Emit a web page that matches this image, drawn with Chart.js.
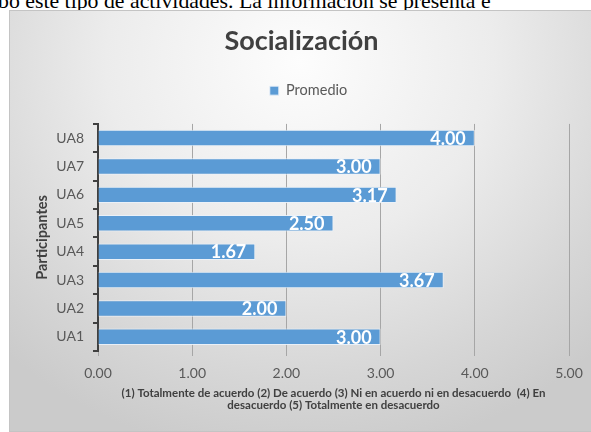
<!DOCTYPE html>
<html>
<head>
<meta charset="utf-8">
<script src="https://cdn.jsdelivr.net/npm/chart.js@4"></script>
<style>
  body { margin: 0; width: 591px; height: 432px; overflow: hidden; background: #fff; position: relative; }
  #topText {
    position: absolute; left: -2px; top: -10px; white-space: nowrap; line-height: 22px;
    font-family: "Liberation Serif", serif; font-size: 21.8px; color: #000;
  }
  #box {
    position: absolute; left: 9px; top: 10px; width: 600px; height: 422px;
    border: 1px solid #c4c4c4; box-sizing: border-box;
    background: radial-gradient(ellipse 72% 95% at 48.5% 12%, #fdfdfd 0%, #ececec 45%, #d6d6d6 80%, #cbcbcb 100%);
  }
  #box canvas { position: absolute; left: 0; top: 0; }
</style>
</head>
<body>
<div id="topText">bo este tipo de actividades. La información se presenta e</div>
<div id="box"><canvas id="chart" width="600" height="422"></canvas></div>
<script>
// data (bottom to top)
const participants = ["UA1", "UA2", "UA3", "UA4", "UA5", "UA6", "UA7", "UA8"];
const promedio = [3.00, 2.00, 3.67, 1.67, 2.50, 3.17, 3.00, 4.00];
const xTitleLines = [
    "(1) Totalmente de acuerdo (2) De acuerdo (3) Ni en acuerdo ni en desacuerdo  (4) En",
    "desacuerdo (5) Totalmente en desacuerdo"
];

const textFont = "Lato, 'Open Sans', sans-serif";

// white value labels inside the end of each bar
const valueLabels = {
    id: "valueLabels",
    afterDatasetsDraw(chart) {
        const ctx = chart.ctx;
        const meta = chart.getDatasetMeta(0);
        ctx.save();
        ctx.font = "bold 18px " + textFont;
        ctx.fillStyle = "#ffffff";
        ctx.textAlign = "right";
        ctx.textBaseline = "middle";
        meta.data.forEach((bar, i) => {
            ctx.fillText(promedio[i].toFixed(2), bar.x - 9, bar.y + 1);
        });
        ctx.restore();
    }
};

// extra room under the legend, and nudge it a bit right like the original
const legendGap = {
    id: "legendGap",
    beforeInit(chart) {
        const fit = chart.legend.fit;
        chart.legend.fit = function () {
            fit.bind(chart.legend)();
            this.height += 16;
        };
    },
    afterLayout(chart) {
        chart.legend.left += 7;
        chart.legend.right += 7;
    }
};

new Chart(document.getElementById("chart"), {
    type: "bar",
    data: {
        labels: participants,
        datasets: [{
            label: "Promedio",
            data: promedio,
            backgroundColor: "#5b9bd5",
            borderColor: "rgba(235,242,250,0.9)",
            borderWidth: 1,
            barPercentage: 0.58,
            categoryPercentage: 1
        }]
    },
    options: {
        indexAxis: "y",
        responsive: false,
        animation: false,
        layout: { padding: { left: 24, right: 41, top: 0, bottom: 22 } },
        plugins: {
            title: {
                display: true,
                text: "Socialización",
                color: "#404040",
                font: { family: textFont, size: 27, weight: "bold" },
                padding: { top: 14, bottom: 12 }
            },
            legend: {
                display: true,
                labels: {
                    color: "#595959",
                    font: { family: textFont, size: 14.5 },
                    boxWidth: 9,
                    boxHeight: 9,
                    padding: 14
                }
            },
            tooltip: { enabled: false }
        },
        scales: {
            x: {
                min: 0,
                max: 5,
                afterFit: scale => { scale.height = 60; },
                ticks: {
                    stepSize: 1,
                    color: "#595959",
                    font: { family: textFont, size: 14 },
                    padding: 9,
                    callback: v => v.toFixed(2)
                },
                grid: { color: "#a6a6a6", lineWidth: 1, tickLength: 5, tickColor: "#a6a6a6" },
                border: { display: false },
                title: {
                    display: true,
                    text: xTitleLines,
                    color: "#404040",
                    font: { family: textFont, size: 11.5, weight: "bold", lineHeight: 1.0 },
                    padding: { top: 0, bottom: 0 }
                }
            },
            y: {
                reverse: true,
                afterFit: scale => { scale.width = 64; },
                ticks: {
                    color: "#595959",
                    font: { family: textFont, size: 14 },
                    padding: 9
                },
                grid: { drawOnChartArea: false, tickLength: 5, tickColor: "#404040", lineWidth: 2 },
                border: { display: true, color: "#404040", width: 2 },
                title: {
                    display: true,
                    text: "Participantes",
                    color: "#404040",
                    font: { family: textFont, size: 14.5, weight: "bold" },
                    padding: 0
                }
            }
        }
    },
    plugins: [valueLabels, legendGap]
});
</script>
</body>
</html>
